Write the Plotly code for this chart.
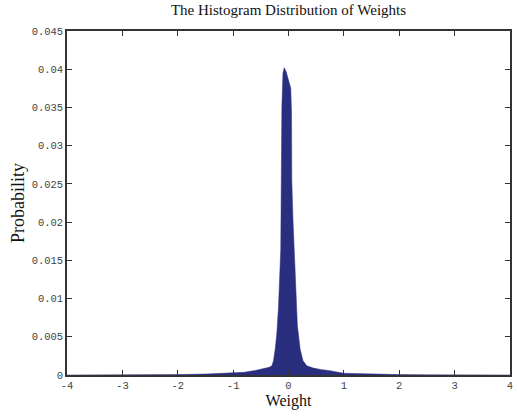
import plotly.graph_objects as go

# Histogram of weights (bin positions and probabilities)
weights = [-4.0, -3.0, -2.5, -2.0, -1.5, -1.0, -0.8, -0.6, -0.45, -0.35, -0.30,
           -0.27, -0.24, -0.21, -0.18, -0.16, -0.15, -0.14, -0.135, -0.13, -0.125,
           -0.12, -0.10, -0.077, -0.041, -0.013, 0.013, 0.041, 0.054, 0.059, 0.08,
           0.10, 0.13, 0.16, 0.21, 0.26, 0.33, 0.45, 0.6, 0.72, 1.0, 1.5, 2.0,
           2.5, 3.0, 4.0]
probability = [0.0, 0.0, 0.00002, 0.00005, 0.00012, 0.00025, 0.00035, 0.0006, 0.0008,
               0.001, 0.0012, 0.0019, 0.0034, 0.0055, 0.009, 0.0125, 0.0145, 0.0164,
               0.021, 0.0256, 0.032, 0.035, 0.0395, 0.0402, 0.03965, 0.039, 0.0383,
               0.0375, 0.0344, 0.0256, 0.0205, 0.0164, 0.0105, 0.0065, 0.0034, 0.0019,
               0.0012, 0.0009, 0.0007, 0.0006, 0.00022, 0.0001, 0.00005, 0.00002,
               0.0, 0.0]

x_ticks = [-4, -3, -2, -1, 0, 1, 2, 3, 4]
x_tick_labels = ["-4", "-3", "-2", "-1", "0", "1", "2", "3", "4"]
y_ticks = [0, 0.005, 0.01, 0.015, 0.02, 0.025, 0.03, 0.035, 0.04, 0.045]
y_tick_labels = ["0", "0.005", "0.01", "0.015", "0.02", "0.025", "0.03", "0.035", "0.04", "0.045"]

bar_color = "#2a2e7e"

fig = go.Figure()
fig.add_trace(go.Scatter(
    x=weights, y=probability, mode="lines",
    line=dict(color=bar_color, width=0.5),
    fill="tozeroy", fillcolor=bar_color,
    showlegend=False, hoverinfo="x+y",
))

tick_font = dict(family="Liberation Mono, DejaVu Sans Mono, monospace", size=10.5, color="#444444")
axis_common = dict(
    showline=True, linecolor="#333333", linewidth=1.5, mirror="ticks",
    ticks="inside", ticklen=5, tickwidth=1, tickcolor="#333333",
    showgrid=False, zeroline=False, tickfont=tick_font,
)

serif = "Liberation Serif, Times New Roman, serif"

fig.update_layout(
    width=517, height=416,
    margin=dict(l=67, r=4, t=31, b=41),
    paper_bgcolor="white", plot_bgcolor="white",
    title=dict(
        text="The Histogram Distribution of Weights",
        font=dict(family=serif, size=15, color="#111111"),
        x=0.5, xref="paper", xanchor="center",
        y=0.99, yref="container", yanchor="top",
    ),
    xaxis=dict(
        range=[-4, 4], tickvals=x_ticks, ticktext=x_tick_labels,
        title=dict(text="Weight", standoff=3, font=dict(family=serif, size=16, color="#111111")),
        **axis_common,
    ),
    yaxis=dict(
        range=[0, 0.045], tickvals=y_ticks, ticktext=y_tick_labels,
        title=dict(text="Probability", standoff=2, font=dict(family=serif, size=18, color="#111111")),
        **axis_common,
    ),
)

fig.write_html("out.html")
